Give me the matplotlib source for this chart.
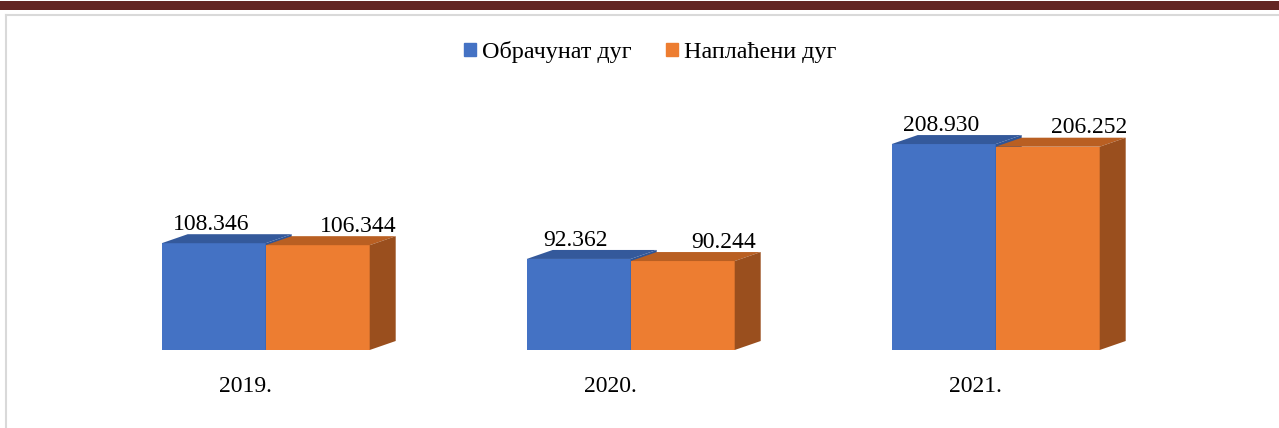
import matplotlib.pyplot as plt
from matplotlib.patches import Polygon, Rectangle, Patch
from matplotlib.lines import Line2D

# データ
years = ["2019.", "2020.", "2021."]
obracunat = [108346, 92362, 208930]
naplaceni = [106344, 90244, 206252]
series_names = ["Обрачунат дуг", "Наплаћени дуг"]

W, H = 1279, 428
plt.rcParams['font.family'] = ['Liberation Serif', 'DejaVu Serif']

fig = plt.figure(figsize=(W / 100, H / 100), dpi=100)
fig.patch.set_facecolor("white")

# 枠
fig.add_artist(Rectangle((0, 1 - 10 / H), 1, 9 / H, transform=fig.transFigure,
                         color="#632523", lw=0))
fig.add_artist(Line2D([6 / W, 1], [1 - 15 / H, 1 - 15 / H], transform=fig.transFigure,
                      color="#d9d9d9", lw=1.5))
fig.add_artist(Line2D([6 / W, 6 / W], [0, 1 - 15 / H], transform=fig.transFigure,
                      color="#d9d9d9", lw=1.5))

px_x = 365.0            # pixels per category
ymax = 250000
ax_h = ymax * 0.9857 / 1000 / H
ax = fig.add_axes([0, 78 / H, 1, ax_h])
ax.set_xlim(-265.7 / px_x, (W - 265.7) / px_x)
ax.set_ylim(0, ymax)
ax.axis("off")

bw = 104 / px_x
dx = 26 / px_x
dy = 9 / 0.9857 * 1000

colors = [("#4472c4", "#34599b", "#2f5597"), ("#ed7d31", "#b95f22", "#9a4f1e")]
xs = list(range(len(years)))

for si, vals in enumerate([obracunat, naplaceni]):
    front, top, side = colors[si]
    lefts = [x - bw if si == 0 else x for x in xs]
    ax.bar(lefts, vals, width=bw, align="edge", color=front, lw=0, zorder=2 + si)
    for l, v in zip(lefts, vals):
        ax.add_patch(Polygon([(l, v), (l + bw, v), (l + bw + dx, v + dy), (l + dx, v + dy)],
                             closed=True, color=top, lw=0, zorder=2 + si))
        ax.add_patch(Polygon([(l + bw, 0), (l + bw + dx, dy), (l + bw + dx, v + dy), (l + bw, v)],
                             closed=True, color=side, lw=0, zorder=2 + si))

def fmt(v):
    return f"{v:,}".replace(",", ".")

fs = 17
for x, a, b in zip(xs, obracunat, naplaceni):
    ax.text(x - bw / 2 - 3 / px_x, a + 13500, fmt(a), ha="center", va="baseline",
            fontsize=fs, color="black", zorder=5)
    ax.text(x + bw / 2 + 41 / px_x, b + 13500, fmt(b), ha="center", va="baseline",
            fontsize=fs, color="black", zorder=5)

for x, y in zip(xs, years):
    ax.text(x - 20 / px_x, -42600, y, ha="center", va="baseline", fontsize=fs,
            color="black", clip_on=False)

handles = [Patch(color=colors[0][0]), Patch(color=colors[1][0])]
fig.legend(handles, series_names, loc="center", bbox_to_anchor=(650 / W, 1 - 52 / H),
           ncol=2, frameon=False, fontsize=17.4, handlelength=0.5, handleheight=0.5,
           handletextpad=0.25, columnspacing=1.4)

fig.savefig("out.png", dpi=100)
